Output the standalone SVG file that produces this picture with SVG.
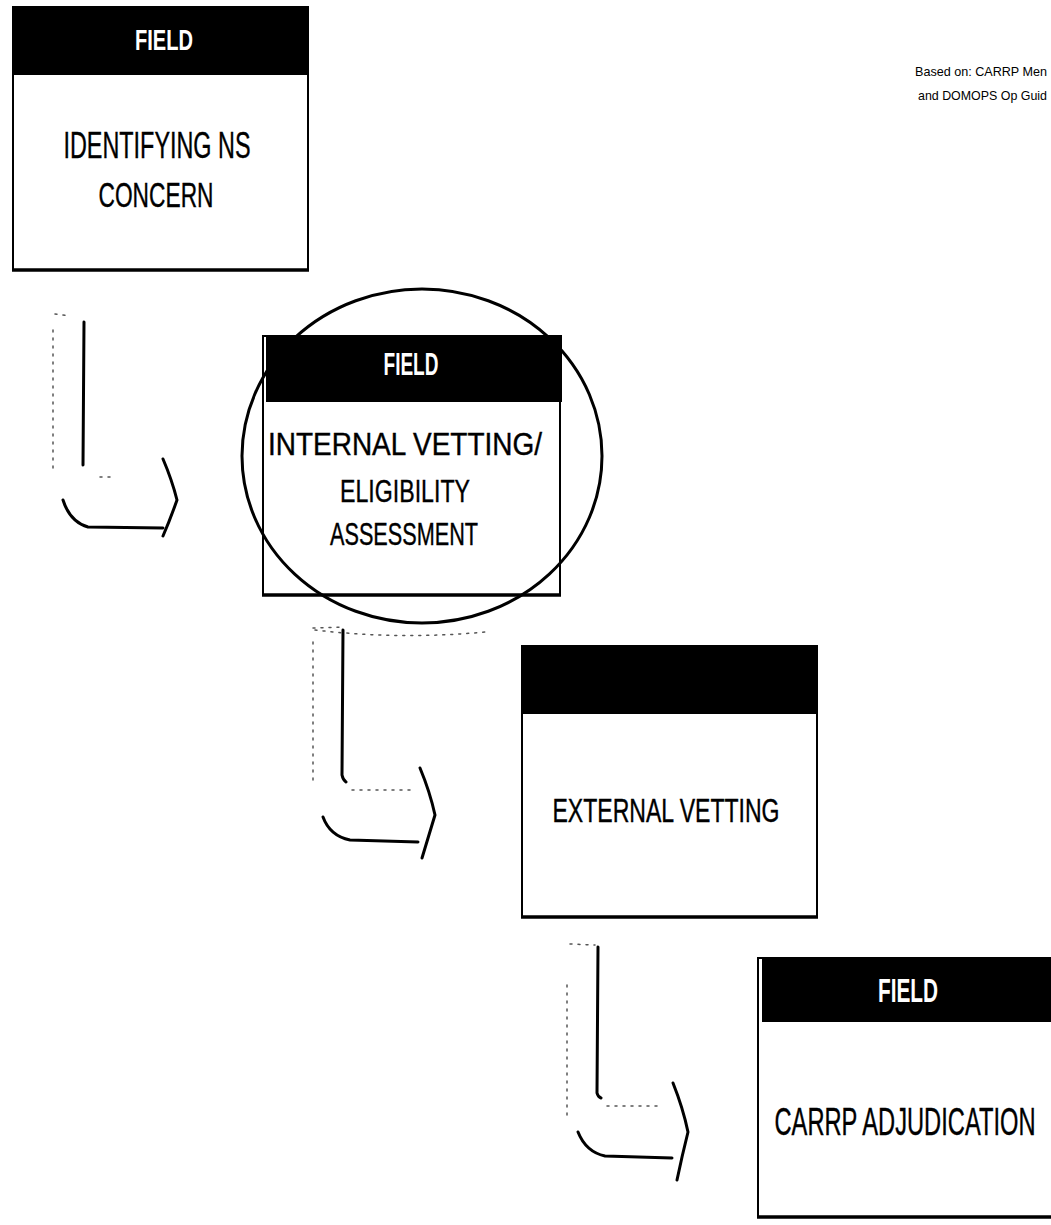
<svg xmlns="http://www.w3.org/2000/svg" width="1051" height="1225" viewBox="0 0 1051 1225">
<style>
.body{fill:#fff;stroke:#000;stroke-width:2}
.hdr{fill:#000}
.base{stroke:#000;stroke-width:3.5}
.ht{fill:#fff;font-family:"Liberation Sans Narrow","Liberation Sans",Arial,sans-serif;font-weight:bold;text-anchor:middle}
.bt{fill:#000;stroke:#000;stroke-width:0.4;font-family:"Liberation Sans Narrow","Liberation Sans",Arial,sans-serif;text-anchor:middle}
.note{fill:#000;font-family:"Liberation Sans Narrow","Liberation Sans",Arial,sans-serif;font-size:13px}
.solid{fill:none;stroke:#000;stroke-width:3;stroke-linecap:round;stroke-linejoin:round}
.faint{fill:none;stroke:#555;stroke-width:1.5;stroke-dasharray:2 6;stroke-linecap:round}
</style>
<rect width="1051" height="1225" fill="#fff"/>

<g id="note">
<text class="note" x="915" y="76" textLength="132" lengthAdjust="spacingAndGlyphs">Based on: CARRP Men</text>
<text class="note" x="918" y="100" textLength="129" lengthAdjust="spacingAndGlyphs">and DOMOPS Op Guid</text>
</g>

<g id="connectors">
<g id="arrow1">
<path class="solid" d="M84,322 L83,465"/>
<path class="faint" d="M55,314 L70,316"/>
<path class="faint" d="M53,330 L53,470"/>
<path class="faint" d="M100,477 L110,477"/>
<path class="solid" d="M63,500 Q70,522 88,527 L163,528"/>
<path class="solid" d="M163,459 Q172,480 177,500 Q170,520 163,536"/>
</g>
<g id="arrow2">
<path class="solid" d="M343,630 L342,775 Q343,780 346,782"/>
<path class="faint" d="M313,628 L343,627"/>
<path class="faint" d="M313,642 L313,782"/>
<path class="faint" d="M352,790 L410,790"/>
<path class="solid" d="M323,817 Q330,836 350,840 L418,842"/>
<path class="solid" d="M420,768 Q430,792 435,815 Q428,838 422,858"/>
</g>
<g id="arrow3">
<path class="solid" d="M598,947 L597,1093 Q598,1097 601,1098"/>
<path class="faint" d="M570,944 L595,945"/>
<path class="faint" d="M567,985 L567,1118"/>
<path class="faint" d="M607,1106 L657,1106"/>
<path class="solid" d="M578,1132 Q586,1152 605,1156 L672,1158"/>
<path class="solid" d="M673,1083 Q683,1108 688,1132 Q682,1156 677,1180"/>
</g>
</g>

<g id="node1">
<rect class="body" x="13" y="7" width="295" height="263"/>
<rect class="hdr" x="12" y="6" width="297" height="69"/>
<line class="base" x1="12" y1="270" x2="309" y2="270"/>
<text class="ht" x="164" y="50" font-size="30" textLength="58" lengthAdjust="spacingAndGlyphs">FIELD</text>
<text class="bt" x="157" y="158" font-size="36" textLength="187" lengthAdjust="spacingAndGlyphs">IDENTIFYING NS</text>
<text class="bt" x="156" y="207" font-size="35" textLength="115" lengthAdjust="spacingAndGlyphs">CONCERN</text>
</g>

<g id="node2">
<rect class="body" x="263" y="336" width="297" height="259"/>
<rect class="hdr" x="266" y="335" width="296" height="67"/>
<line class="base" x1="262" y1="595" x2="561" y2="595"/>
<text class="ht" x="411" y="375" font-size="31" textLength="55" lengthAdjust="spacingAndGlyphs">FIELD</text>
<text class="bt" x="405" y="455" font-size="32" textLength="274" lengthAdjust="spacingAndGlyphs">INTERNAL VETTING/</text>
<text class="bt" x="405" y="502" font-size="32" textLength="130" lengthAdjust="spacingAndGlyphs">ELIGIBILITY</text>
<text class="bt" x="404" y="545" font-size="32" textLength="148" lengthAdjust="spacingAndGlyphs">ASSESSMENT</text>
<ellipse cx="422" cy="456" rx="180" ry="167" fill="none" stroke="#000" stroke-width="3"/>
<path class="faint" d="M315,630 Q400,640 485,632"/>
</g>

<g id="node3">
<rect class="body" x="522" y="646" width="295" height="271"/>
<rect class="hdr" x="523" y="645" width="295" height="69"/>
<line class="base" x1="521" y1="917" x2="818" y2="917"/>
<text class="bt" x="666" y="822" font-size="34" textLength="227" lengthAdjust="spacingAndGlyphs">EXTERNAL VETTING</text>
</g>

<g id="node4">
<rect class="body" x="758" y="958" width="295" height="259"/>
<rect class="hdr" x="762" y="957" width="289" height="65"/>
<line class="base" x1="757" y1="1217" x2="1051" y2="1217"/>
<text class="ht" x="908" y="1002" font-size="34" textLength="60" lengthAdjust="spacingAndGlyphs">FIELD</text>
<text class="bt" x="905" y="1135" font-size="38" textLength="261" lengthAdjust="spacingAndGlyphs">CARRP ADJUDICATION</text>
</g>
</svg>
